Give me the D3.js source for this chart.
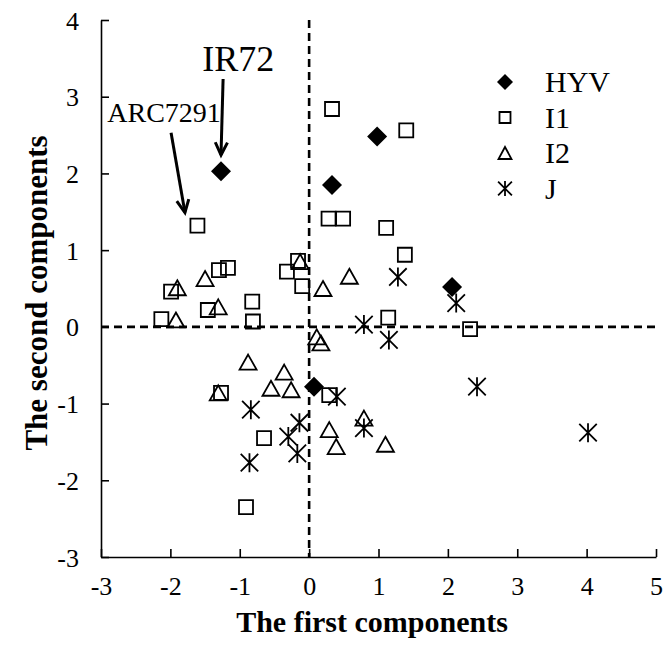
<!DOCTYPE html>
<html><head><meta charset="utf-8">
<script src="https://cdn.jsdelivr.net/npm/d3@7"></script>
<style>body{margin:0;background:#fff}svg{display:block}</style>
</head><body><svg id="c" width="665" height="651"></svg>
<script>
const xTicks = [-3,-2,-1,0,1,2,3,4,5];
const yTicks = [-3,-2,-1,0,1,2,3,4];
const seriesNames = ["HYV","I1","I2","J"];
const hyv = [[-1.27,2.03],[0.98,2.48],[0.33,1.85],[2.06,0.52],[0.07,-0.78]];
const i1 = [[-1.61,1.32],[-0.16,0.86],[-0.32,0.72],[-0.10,0.53],[-1.30,0.74],[-1.17,0.77],[-1.99,0.46],[-1.46,0.22],[-0.82,0.33],[-0.81,0.07],[-2.13,0.10],[0.33,2.84],[1.40,2.56],[0.28,1.41],[0.49,1.41],[1.11,1.29],[1.38,0.94],[1.14,0.12],[2.32,-0.03],[-1.27,-0.86],[0.29,-0.89],[-0.65,-1.45],[-0.91,-2.35]];
const i2 = [[-0.13,0.85],[-1.50,0.63],[-1.90,0.51],[-1.31,0.26],[-1.92,0.09],[0.58,0.66],[0.20,0.50],[0.11,-0.13],[0.17,-0.21],[-0.88,-0.46],[-0.36,-0.59],[-0.55,-0.80],[-0.26,-0.82],[-1.31,-0.86],[0.79,-1.19],[0.29,-1.34],[0.39,-1.56],[1.10,-1.53]];
const jSeries = [[1.28,0.65],[2.12,0.31],[0.79,0.03],[1.15,-0.17],[-0.84,-1.08],[-0.14,-1.25],[-0.30,-1.43],[-0.17,-1.65],[-0.86,-1.77],[0.40,-0.91],[2.42,-0.78],[0.79,-1.32],[4.02,-1.38]];
const annotations = [
  {label:"IR72", tx:-1.02, ty:3.34, size:36, from:[-1.24,3.23], to:[-1.27,2.24]},
  {label:"ARC7291", tx:-2.91, ty:2.67, size:28, anchor:"start", from:[-1.99,2.53], to:[-1.79,1.49]}
];
const xTitle = "The first components", yTitle = "The second components";
const FONT = '"Liberation Serif", "Times New Roman", serif';

const svg = d3.select("#c");
const x = d3.scaleLinear().domain([-3,5]).range([101,656]);
const y = d3.scaleLinear().domain([-3,4]).range([557,20]);

svg.append("line").attr("x1",x(0)).attr("x2",x(0)).attr("y1",y(4)).attr("y2",y(-3))
  .attr("stroke","#000").attr("stroke-width",2.6).attr("stroke-dasharray","8,5");
svg.append("line").attr("x1",x(-3)).attr("x2",x(5)).attr("y1",y(0)).attr("y2",y(0))
  .attr("stroke","#000").attr("stroke-width",2.6).attr("stroke-dasharray","8,5");

const gx = svg.append("g").attr("transform",`translate(0,${y(-3)})`)
  .call(d3.axisBottom(x).tickValues(xTicks).tickSizeInner(-8).tickSizeOuter(0).tickPadding(20).tickFormat(d=>d<0?"-"+Math.abs(d):String(d)));
const gy = svg.append("g").attr("transform",`translate(${x(-3)},0)`)
  .call(d3.axisLeft(y).tickValues(yTicks).tickSizeInner(-8).tickSizeOuter(0).tickPadding(22).tickFormat(d=>d<0?"-"+Math.abs(d):String(d)));
[gx,gy].forEach(g=>{
  g.attr("font-family",null).attr("font-size",null);
  g.select(".domain").attr("stroke","#000").attr("stroke-width",1.6);
  g.selectAll(".tick line").attr("stroke","#000").attr("stroke-width",1.6);
  g.selectAll(".tick text").style("font-family",FONT).style("font-size","26px").attr("fill","#000");
});
gy.selectAll(".tick text").attr("dy","0.35em");

svg.append("text").attr("x",372).attr("y",632).attr("text-anchor","middle")
  .style("font-family",FONT).style("font-size","30px").style("font-weight","bold").text(xTitle);
svg.append("text").attr("transform",`translate(47,293) rotate(-90)`).attr("text-anchor","middle")
  .style("font-family",FONT).style("font-size","31px").style("font-weight","bold").text(yTitle);

function diamond(s){const h=s/2;return `M0,${-h}L${h},0L0,${h}L${-h},0Z`;}
function square(s){const h=s/2;return `M${-h},${-h}H${h}V${h}H${-h}Z`;}
function triangle(w,hgt){return `M0,${-hgt/2}L${w/2},${hgt/2}L${-w/2},${hgt/2}Z`;}
function star(s){const h=s/2,d=h*0.92;return `M0,${-h}V${h}M${-d},${-d}L${d},${d}M${-d},${d}L${d},${-d}`;}
const markers = {
  HYV:{big:()=>diamond(20), small:()=>diamond(16), fill:"#000", sw:0},
  I1:{big:()=>square(14), small:()=>square(11), fill:"none", sw:1.8},
  I2:{big:()=>triangle(17,15), small:()=>triangle(13,12), fill:"none", sw:1.8},
  J:{big:()=>star(19), small:()=>star(15), fill:"none", sw:1.8}
};
const data = {HYV:hyv, I1:i1, I2:i2, J:jSeries};
["I1","I2","J","HYV"].forEach(k=>{
  const m = markers[k];
  svg.append("g").selectAll("path").data(data[k]).join("path")
    .attr("transform",d=>`translate(${x(d[0])},${y(d[1])})`)
    .attr("d",m.big()).attr("fill",m.fill).attr("stroke","#000").attr("stroke-width",m.sw);
});

const leg = svg.append("g");
seriesNames.forEach((k,i)=>{
  const yy = 82 + i*35.5, m = markers[k];
  leg.append("path").attr("transform",`translate(505,${yy})`).attr("d",m.small())
    .attr("fill",m.fill).attr("stroke","#000").attr("stroke-width",m.sw);
  leg.append("text").attr("x",545).attr("y",yy).attr("dy","0.34em")
    .style("font-family",FONT).style("font-size","30px").text(k);
});

annotations.forEach(a=>{
  svg.append("text").attr("x",x(a.tx)).attr("y",y(a.ty)).attr("text-anchor",a.anchor||"middle")
    .style("font-family",FONT).style("font-size",a.size+"px").text(a.label);
  const x1=x(a.from[0]),y1=y(a.from[1]),x2=x(a.to[0]),y2=y(a.to[1]);
  svg.append("line").attr("x1",x1).attr("y1",y1).attr("x2",x2).attr("y2",y2)
    .attr("stroke","#000").attr("stroke-width",3);
  const ang=Math.atan2(y2-y1,x2-x1), L=14, sp=0.45;
  const p=(t)=>[x2-L*Math.cos(ang+t), y2-L*Math.sin(ang+t)];
  const a1=p(sp), a2=p(-sp);
  svg.append("path").attr("d",`M${a1[0]},${a1[1]}L${x2},${y2}L${a2[0]},${a2[1]}`)
    .attr("fill","none").attr("stroke","#000").attr("stroke-width",3);
});
</script></body></html>
